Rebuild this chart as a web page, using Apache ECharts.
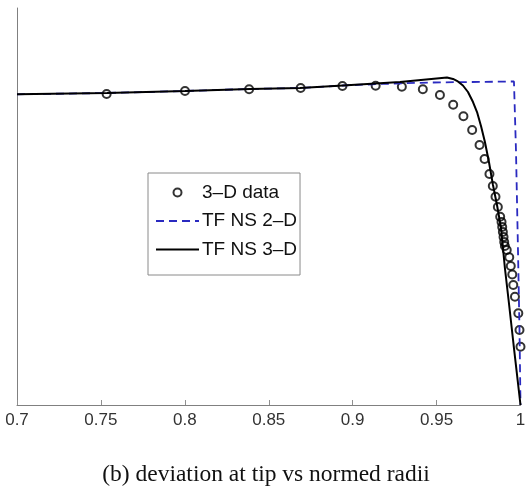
<!DOCTYPE html>
<html>
<head>
<meta charset="utf-8">
<script src="https://cdn.jsdelivr.net/npm/echarts@6/dist/echarts.min.js"></script>
<style>
html,body{margin:0;padding:0;background:#fff;}
#chart{width:532px;height:487px;}
</style>
</head>
<body>
<div id="chart"></div>
<script>
// 3-D data (circles): normed radius, deviation
const dataX = [0.7534, 0.8001, 0.8383, 0.8690, 0.8939, 0.9137, 0.9293, 0.9418, 0.9520, 0.9599, 0.9660, 0.9712, 0.9756, 0.9786, 0.9815, 0.9835, 0.9851, 0.9865, 0.9879, 0.9887, 0.9891, 0.9895, 0.9899, 0.9903, 0.9907, 0.9918, 0.9933, 0.9942, 0.9951, 0.9957, 0.9967, 0.9987, 0.9994, 1.0];
const dataY = [0.7834, 0.7909, 0.7952, 0.7985, 0.8035, 0.8043, 0.8018, 0.7952, 0.7809, 0.7564, 0.7272, 0.6927, 0.6549, 0.6196, 0.5819, 0.5516, 0.5247, 0.4987, 0.4743, 0.4610, 0.4484, 0.4358, 0.4232, 0.4106, 0.4005, 0.3904, 0.3720, 0.3501, 0.3287, 0.3023, 0.2728, 0.2310, 0.1889, 0.1469];

// TF NS 2-D (blue dashed)
const ns2X = [0.7, 0.7536, 0.8001, 0.8388, 0.8686, 0.8942, 0.9163, 0.9461, 0.9961, 0.9973, 0.9985, 0.9994, 1.0];
const ns2Y = [0.7826, 0.7859, 0.7909, 0.7960, 0.7985, 0.8048, 0.8086, 0.8123, 0.8149, 0.6423, 0.3904, 0.1889, 0.0];

// TF NS 3-D (black solid)
const ns3X = [0.7, 0.7536, 0.8001, 0.8388, 0.8686, 0.8942, 0.9282, 0.9562, 0.9598, 0.9627, 0.9657, 0.9687, 0.9717, 0.9741, 0.9765, 0.9788, 0.9812, 0.9836, 0.9860, 0.9884, 0.9907, 0.9929, 0.9959, 1.0];
const ns3Y = [0.7826, 0.7859, 0.7909, 0.7960, 0.7985, 0.8048, 0.8136, 0.8249, 0.8212, 0.8149, 0.8048, 0.7884, 0.7632, 0.7380, 0.7023, 0.6625, 0.6121, 0.5542, 0.5038, 0.4458, 0.3451, 0.2645, 0.1511, 0.0];

const seriesNames = ['3\u2013D data', 'TF NS 2\u2013D', 'TF NS 3\u2013D'];
const caption = '(b) deviation at tip vs normed radii';

const zip = (xs, ys) => xs.map((x, i) => [x, ys[i]]);

const chart = echarts.init(document.getElementById('chart'), null, {renderer: 'canvas'});
chart.setOption({
  backgroundColor: '#fff',
  animation: false,
  grid: {left: 17, right: 11.5, top: 8, bottom: 82},
  xAxis: {
    type: 'value', min: 0.7, max: 1.0, interval: 0.05,
    axisLine: {show: true, lineStyle: {color: '#808080', width: 1}},
    axisTick: {show: true, inside: true, length: 5, lineStyle: {color: '#909090'}},
    axisLabel: {color: '#333', fontSize: 17, fontFamily: 'Liberation Sans, Arial, sans-serif', margin: 7,
      formatter: v => String(+v.toFixed(2))},
    splitLine: {show: false}
  },
  yAxis: {
    type: 'value', min: 0, max: 1,
    axisLine: {show: true, lineStyle: {color: '#808080', width: 1}},
    axisTick: {show: false},
    axisLabel: {show: false},
    splitLine: {show: false}
  },
  legend: {
    orient: 'vertical',
    left: 148, top: 173,
    itemWidth: 43, itemHeight: 8, itemGap: 9.5,
    padding: [10, 3, 16, 7],
    borderColor: '#8a8a8a', borderWidth: 1, backgroundColor: '#fff',
    textStyle: {fontSize: 19, lineHeight: 19, color: '#111', fontFamily: 'Liberation Sans, Arial, sans-serif', padding: [0,0,0,-2]},
    data: [
      {name: seriesNames[0]},
      {name: seriesNames[1], itemStyle: {opacity: 0}},
      {name: seriesNames[2], itemStyle: {opacity: 0}}
    ]
  },
  series: [
    {
      name: seriesNames[0], type: 'scatter', z: 2,
      symbol: 'circle', symbolSize: 8,
      itemStyle: {color: 'rgba(255,255,255,0)', borderColor: '#000', borderWidth: 2},
      data: zip(dataX, dataY)
    },
    {
      name: seriesNames[1], type: 'line', z: 3, symbol: 'none',
      lineStyle: {color: '#2a2ac0', width: 1.8, type: [8, 5]},
      itemStyle: {color: '#2a2ac0'},
      data: zip(ns2X, ns2Y)
    },
    {
      name: seriesNames[2], type: 'line', z: 4, symbol: 'none',
      lineStyle: {color: '#000', width: 2},
      itemStyle: {color: '#000'},
      data: zip(ns3X, ns3Y)
    }
  ],
  graphic: [{
    type: 'text', left: 'center', top: 463,
    style: {text: caption, fontSize: 23.5, fontFamily: 'Liberation Serif, Times New Roman, serif', fill: '#111'}
  }]
});
</script>
</body>
</html>
